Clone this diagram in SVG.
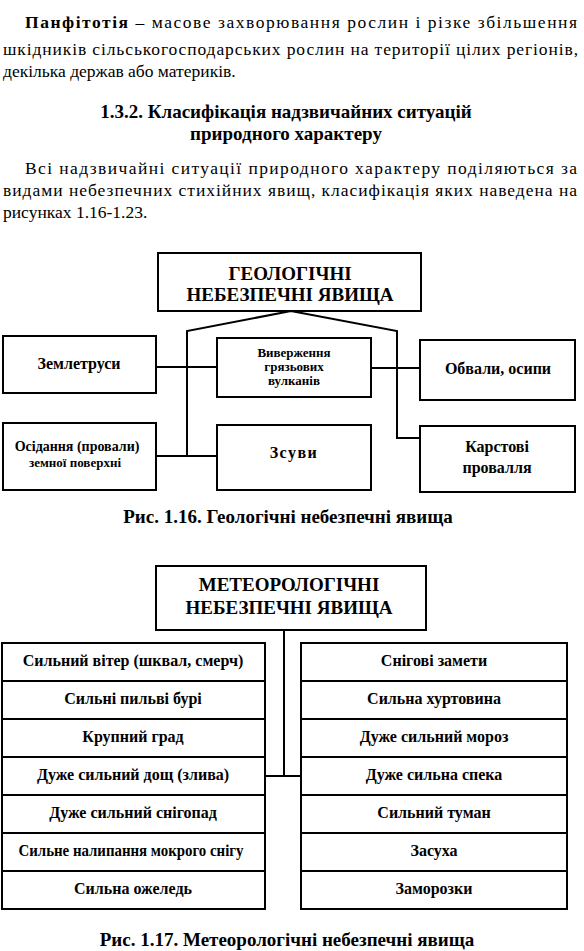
<svg xmlns="http://www.w3.org/2000/svg" width="584" height="951" viewBox="0 0 584 951">
<style>
.body{font-family:"Liberation Serif","Times New Roman",serif;font-size:17.5px;fill:#000}
.b{font-weight:bold}
.hd{font-family:"Liberation Serif","Times New Roman",serif;font-size:19px;font-weight:bold;fill:#000;text-anchor:middle}
.box{fill:#fff;stroke:#000;stroke-width:2}
.t19{font-family:"Liberation Serif","Times New Roman",serif;font-size:19px;font-weight:bold;text-anchor:middle;fill:#000}
.t16{font-family:"Liberation Serif","Times New Roman",serif;font-size:16px;font-weight:bold;text-anchor:middle;fill:#000}
.t14{font-family:"Liberation Serif","Times New Roman",serif;font-size:14px;font-weight:bold;text-anchor:middle;fill:#000}
.t13{font-family:"Liberation Serif","Times New Roman",serif;font-size:13px;font-weight:bold;text-anchor:middle;fill:#000}
.ln{fill:none;stroke:#000;stroke-width:2}
</style>
<rect width="584" height="951" fill="#fff"/>
<g id="text">
<text class="body" x="25" y="28" textLength="552" lengthAdjust="spacing"><tspan class="b">Панфітотія</tspan> – масове захворювання рослин і різке збільшення</text>
<text class="body" x="3" y="55" textLength="575" lengthAdjust="spacing">шкідників сільськогосподарських рослин на території цілих регіонів,</text>
<text class="body" x="3" y="77">декілька держав або материків.</text>
<text class="hd" x="286" y="118">1.3.2. Класифікація надзвичайних ситуацій</text>
<text class="hd" x="286" y="140">природного характеру</text>
<text class="body" x="25" y="174" textLength="552" lengthAdjust="spacing">Всі надзвичайні ситуації природного характеру поділяються за</text>
<text class="body" x="3" y="196" textLength="574" lengthAdjust="spacing">видами небезпечних стихійних явищ, класифікація яких наведена  на</text>
<text class="body" x="3" y="218">рисунках 1.16-1.23.</text>
<text class="hd" x="288" y="523">Рис. 1.16. Геологічні небезпечні явища</text>
<text class="hd" x="287" y="946">Рис. 1.17. Метеорологічні небезпечні явища</text>
</g>
<g id="connectors">
<polyline class="ln" points="187,456 187,331 291,311 397,331 397,438 420,438"/>
<line class="ln" x1="156" y1="367" x2="217" y2="367"/>
<line class="ln" x1="156" y1="456" x2="217" y2="456"/>
<line class="ln" x1="371" y1="368" x2="420" y2="368"/>
<line class="ln" x1="284" y1="630" x2="284" y2="776"/>
<line class="ln" x1="265" y1="776" x2="301" y2="776"/>
</g>
<g id="geo-root"><rect class="box" x="158" y="253" width="263" height="58"/>
<text class="t19" x="290" y="280">ГЕОЛОГІЧНІ</text><text class="t19" x="290" y="301">НЕБЕЗПЕЧНІ ЯВИЩА</text></g>
<g id="geo-zemletrusy"><rect class="box" x="3" y="336" width="153" height="57"/><text class="t16" x="79" y="369">Землетруси</text></g>
<g id="geo-vyverzhennia"><rect class="box" x="217" y="338" width="154" height="59"/>
<text class="t13" x="294" y="357">Виверження</text><text class="t13" x="294" y="371">грязьових</text><text class="t13" x="294" y="385">вулканів</text></g>
<g id="geo-obvaly"><rect class="box" x="420" y="340" width="155" height="60"/><text class="t16" x="498" y="374">Обвали, осипи</text></g>
<g id="geo-osidannia"><rect class="box" x="3" y="423" width="153" height="67"/>
<text class="t14" x="77" y="451">Осідання (провали)</text><text class="t13" x="75" y="467">земної поверхні</text></g>
<g id="geo-zsuvy"><rect class="box" x="217" y="425" width="154" height="65"/><text class="t16" x="294" y="458" letter-spacing="1.5">Зсуви</text></g>
<g id="geo-karstovi"><rect class="box" x="420" y="426" width="155" height="66"/>
<text class="t16" x="497" y="452">Карстові</text><text class="t16" x="497" y="473">провалля</text></g>
<g id="met-root"><rect class="box" x="156" y="566" width="270" height="64"/>
<text class="t19" x="289" y="591">МЕТЕОРОЛОГІЧНІ</text><text class="t19" x="289" y="614">НЕБЕЗПЕЧНІ ЯВИЩА</text></g>
<g id="met-left">
<rect class="box" x="2" y="643" width="263" height="38"/><text class="t16" x="133" y="666">Сильний вітер (шквал, смерч)</text>
<rect class="box" x="2" y="681" width="263" height="38"/><text class="t16" x="133" y="704">Сильні пильві бурі</text>
<rect class="box" x="2" y="719" width="263" height="38"/><text class="t16" x="133" y="742">Крупний град</text>
<rect class="box" x="2" y="757" width="263" height="38"/><text class="t16" x="133" y="780">Дуже сильний дощ (злива)</text>
<rect class="box" x="2" y="795" width="263" height="38"/><text class="t16" x="133" y="818">Дуже сильний снігопад</text>
<rect class="box" x="2" y="833" width="263" height="38"/><text class="t16" x="131" y="856" textLength="225" lengthAdjust="spacingAndGlyphs">Сильне налипання мокрого снігу</text>
<rect class="box" x="2" y="871" width="263" height="38"/><text class="t16" x="133" y="894">Сильна ожеледь</text>
</g>
<g id="met-right">
<rect class="box" x="301" y="643" width="266" height="38"/><text class="t16" x="434" y="666">Снігові замети</text>
<rect class="box" x="301" y="681" width="266" height="38"/><text class="t16" x="434" y="704">Сильна хуртовина</text>
<rect class="box" x="301" y="719" width="266" height="38"/><text class="t16" x="434" y="742">Дуже сильний мороз</text>
<rect class="box" x="301" y="757" width="266" height="38"/><text class="t16" x="434" y="780">Дуже сильна спека</text>
<rect class="box" x="301" y="795" width="266" height="38"/><text class="t16" x="434" y="818">Сильний туман</text>
<rect class="box" x="301" y="833" width="266" height="38"/><text class="t16" x="434" y="856">Засуха</text>
<rect class="box" x="301" y="871" width="266" height="38"/><text class="t16" x="434" y="894">Заморозки</text>
</g>
</svg>
